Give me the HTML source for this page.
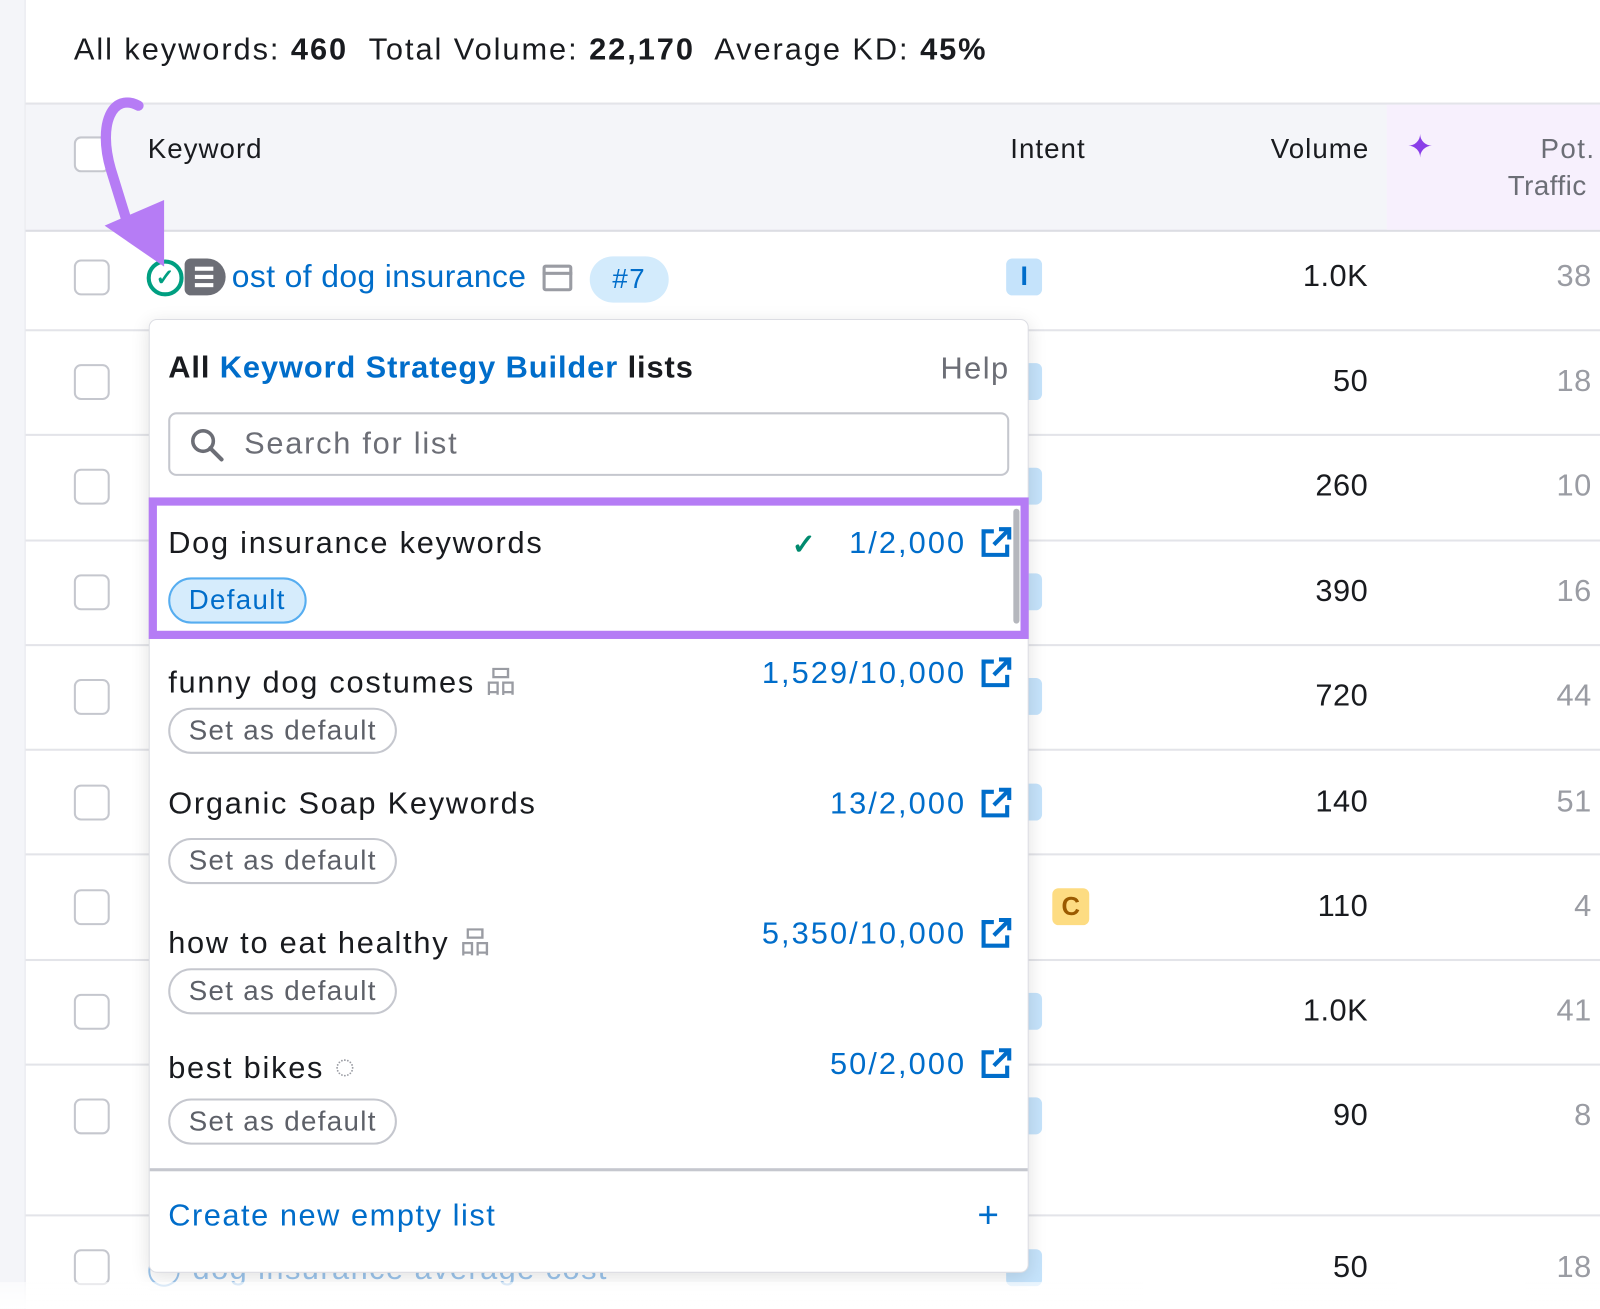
<!DOCTYPE html>
<html><head><style>
*{margin:0;padding:0;box-sizing:border-box}
html,body{width:1600px;height:1309px;overflow:hidden;background:#fff}
#w{position:absolute;left:0;top:0;width:1560px;height:1276px;transform:scale(1.02564);transform-origin:0 0;font-family:"Liberation Sans",sans-serif;color:#191b1f;letter-spacing:1.4px}
.a{position:absolute;white-space:nowrap}
.cb{position:absolute;left:72px;width:35px;height:35px;border:2px solid #c5c7ce;border-radius:7px;background:#fff}
.hl{position:absolute;left:25px;right:0;height:2px;background:#e3e4e9}
.vol{position:absolute;right:226px;font-size:30px;text-align:right;letter-spacing:0.5px}
.pt{position:absolute;right:8px;font-size:30px;color:#9a9ca3;letter-spacing:0.5px}
.ib{position:absolute;left:981px;width:35px;height:36px;background:#c5e3fb;border-radius:6px}
.it{position:absolute;left:164px;font-size:30px;letter-spacing:1.7px}
.cnt{position:absolute;right:618px;font-size:30px;color:#006dca;text-align:right;letter-spacing:2px}
.pill{position:absolute;left:164px;height:45px;border:2px solid #c5c7ce;border-radius:23px;font-size:27px;color:#5d6068;padding:0 18px;line-height:41px;background:#fff;letter-spacing:1.3px}
.lk{position:absolute;left:955px;width:32px;height:32px}
</style></head><body><div id="w">
<div class="a" style="left:0;top:0;width:25px;height:1276px;background:#f4f5f9;border-right:1px solid #e6e7ec"></div>
<div class="a" style="left:72px;top:32px;font-size:30px;letter-spacing:1.9px">All keywords: <b>460</b>&nbsp; Total Volume: <b>22,170</b>&nbsp; Average KD: <b>45%</b></div>
<div class="a" style="left:25px;top:100px;width:1535px;height:126px;background:#f4f5f9;border-top:2px solid #e3e4e9;border-bottom:2px solid #dcdde3"></div>
<div class="a" style="left:1352px;top:102px;width:208px;height:122px;background:#f7f0fd"></div>
<div class="cb" style="top:133px"></div>
<div class="a" style="left:144px;top:130px;font-size:27px;letter-spacing:1px">Keyword</div>
<div class="a" style="left:985px;top:130px;font-size:27px;letter-spacing:1px">Intent</div>
<div class="a" style="left:1239px;top:130px;font-size:27px;letter-spacing:1px">Volume</div>
<div class="a" style="left:1372px;top:126px;font-size:30px;color:#8a3ee8">✦</div>
<div class="a" style="left:1502px;top:130px;font-size:27px;color:#6c6e76">Pot.</div>
<div class="a" style="left:1470px;top:166px;font-size:27px;color:#6c6e76;letter-spacing:0.5px">Traffic</div>
<div class="hl" style="top:321px"></div><div class="hl" style="top:423px"></div><div class="hl" style="top:526px"></div><div class="hl" style="top:628px"></div><div class="hl" style="top:730px"></div><div class="hl" style="top:832px"></div><div class="hl" style="top:935px"></div><div class="hl" style="top:1037px"></div><div class="hl" style="top:1184px"></div>
<div class="cb" style="top:253px"></div><div class="cb" style="top:355px"></div><div class="cb" style="top:457px"></div><div class="cb" style="top:560px"></div><div class="cb" style="top:662px"></div><div class="cb" style="top:765px"></div><div class="cb" style="top:867px"></div><div class="cb" style="top:969px"></div><div class="cb" style="top:1071px"></div><div class="cb" style="top:1218px"></div>
<div class="ib" style="top:252px"></div><div class="a" style="left:995px;top:254px;font-size:26px;color:#006dca;font-weight:bold">I</div>
<div class="ib" style="top:354px"></div><div class="ib" style="top:456px"></div><div class="ib" style="top:559px"></div><div class="ib" style="top:661px"></div><div class="ib" style="top:764px"></div><div class="ib" style="top:968px"></div><div class="ib" style="top:1070px"></div><div class="ib" style="top:1218px"></div>
<div class="a" style="left:1026px;top:866px;width:36px;height:36px;background:#fddc82;border-radius:6px;font-size:25px;font-weight:bold;color:#9a5a00;text-align:center;line-height:36px;letter-spacing:0">C</div>
<div class="vol" style="top:253px">1.0K</div><div class="pt" style="top:253px">38</div>
<div class="vol" style="top:355px">50</div><div class="pt" style="top:355px">18</div>
<div class="vol" style="top:457px">260</div><div class="pt" style="top:457px">10</div>
<div class="vol" style="top:560px">390</div><div class="pt" style="top:560px">16</div>
<div class="vol" style="top:662px">720</div><div class="pt" style="top:662px">44</div>
<div class="vol" style="top:765px">140</div><div class="pt" style="top:765px">51</div>
<div class="vol" style="top:867px">110</div><div class="pt" style="top:867px">4</div>
<div class="vol" style="top:969px">1.0K</div><div class="pt" style="top:969px">41</div>
<div class="vol" style="top:1071px">90</div><div class="pt" style="top:1071px">8</div>
<div class="vol" style="top:1219px">50</div><div class="pt" style="top:1219px">18</div>
<div class="a" style="left:180px;top:252px;width:40px;height:36px;background:#6c6e76;border-radius:6px 18px 18px 6px"></div>
<div class="a" style="left:190px;top:260px;width:18px;height:4px;background:#fff;box-shadow:0 8px 0 #fff,0 16px 0 #fff"></div>
<div class="a" style="left:143px;top:253px;width:36px;height:36px;border:4px solid #009f81;border-radius:50%;background:#fff;color:#009f81;font-size:22px;text-align:center;line-height:28px;font-weight:bold;letter-spacing:0">✓</div>
<div class="a" style="left:226px;top:252px;font-size:31px;color:#006dca;letter-spacing:0.4px">ost of dog insurance</div>
<div class="a" style="left:529px;top:258px;width:29px;height:26px;border:3px solid #9a9ca3;border-radius:3px"></div>
<div class="a" style="left:529px;top:265px;width:29px;height:3px;background:#9a9ca3"></div>
<div class="a" style="left:575px;top:250px;width:77px;height:45px;background:#d3ebfc;border-radius:23px;color:#006dca;font-size:27px;text-align:center;line-height:45px">#7</div>
<div class="a" style="left:143px;top:1220px;font-size:30px;color:#9cc5ec">◯ dog insurance average cost</div>
<svg class="a" style="left:80px;top:95px" width="100" height="170"><path d="M55 8 C30 -5 15 25 28 70 L45 125" fill="none" stroke="#b67cf5" stroke-width="10" stroke-linecap="round"/><polygon points="80,100 80,165 22,125" fill="#b67cf5"/></svg>
<div class="a" style="left:145px;top:311px;width:858px;height:930px;background:#fff;border:1px solid #dcdde3;border-radius:8px;box-shadow:0 4px 18px rgba(0,0,0,.12)"></div>
<div class="a" style="left:164px;top:342px;font-size:30px;font-weight:bold;letter-spacing:0.9px">All <span style="color:#006dca">Keyword Strategy Builder</span> lists</div>
<div class="a" style="left:917px;top:343px;font-size:30px;color:#6c6e76">Help</div>
<div class="a" style="left:164px;top:402px;width:820px;height:62px;border:2px solid #c5c7ce;border-radius:8px"></div>
<svg class="a" style="left:184px;top:416px" width="36" height="36"><circle cx="14" cy="14" r="10" fill="none" stroke="#6c6e76" stroke-width="3.5"/><line x1="21" y1="21" x2="32" y2="32" stroke="#6c6e76" stroke-width="4" stroke-linecap="round"/></svg>
<div class="a" style="left:238px;top:416px;font-size:30px;color:#6c6e76;letter-spacing:1.7px">Search for list</div>
<div class="a" style="left:145px;top:485px;width:858px;height:138px;border:8px solid #b57cf5"></div>
<div class="a" style="left:988px;top:496px;width:6px;height:112px;background:#b5b7bd;border-radius:3px"></div>
<div class="it" style="top:513px">Dog insurance keywords</div>
<div class="a" style="left:772px;top:514px;font-size:28px;color:#008a6e;font-weight:bold">✓</div>
<div class="cnt" style="top:513px">1/2,000</div>
<div class="pill" style="top:563px;background:#d6ecfc;border-color:#56adf0;color:#006dca">Default</div>
<div class="it" style="top:640px">funny dog costumes <span style="color:#9a9ca3">品</span></div>
<div class="cnt" style="top:640px">1,529/10,000</div>
<div class="pill" style="top:690px">Set as default</div>
<div class="it" style="top:767px">Organic Soap Keywords</div>
<div class="cnt" style="top:767px">13/2,000</div>
<div class="pill" style="top:817px">Set as default</div>
<div class="it" style="top:894px">how to eat healthy <span style="color:#9a9ca3">品</span></div>
<div class="cnt" style="top:894px">5,350/10,000</div>
<div class="pill" style="top:944px">Set as default</div>
<div class="it" style="top:1021px">best bikes <span style="color:#9a9ca3;font-size:34px">◌</span></div>
<div class="cnt" style="top:1021px">50/2,000</div>
<div class="pill" style="top:1071px">Set as default</div>
<svg class="lk" style="top:513px" viewBox="0 0 32 32"><path d="M14 5H4v23h23V18" fill="none" stroke="#006dca" stroke-width="4"/><path d="M19 3h10v10M29 3L14 18" fill="none" stroke="#006dca" stroke-width="4"/></svg>
<svg class="lk" style="top:640px" viewBox="0 0 32 32"><path d="M14 5H4v23h23V18" fill="none" stroke="#006dca" stroke-width="4"/><path d="M19 3h10v10M29 3L14 18" fill="none" stroke="#006dca" stroke-width="4"/></svg>
<svg class="lk" style="top:767px" viewBox="0 0 32 32"><path d="M14 5H4v23h23V18" fill="none" stroke="#006dca" stroke-width="4"/><path d="M19 3h10v10M29 3L14 18" fill="none" stroke="#006dca" stroke-width="4"/></svg>
<svg class="lk" style="top:894px" viewBox="0 0 32 32"><path d="M14 5H4v23h23V18" fill="none" stroke="#006dca" stroke-width="4"/><path d="M19 3h10v10M29 3L14 18" fill="none" stroke="#006dca" stroke-width="4"/></svg>
<svg class="lk" style="top:1021px" viewBox="0 0 32 32"><path d="M14 5H4v23h23V18" fill="none" stroke="#006dca" stroke-width="4"/><path d="M19 3h10v10M29 3L14 18" fill="none" stroke="#006dca" stroke-width="4"/></svg>
<div class="a" style="left:146px;top:1139px;width:856px;height:3px;background:#c5c7ce"></div>
<div class="a" style="left:164px;top:1169px;font-size:30px;color:#006dca;letter-spacing:1.5px">Create new empty list</div>
<div class="a" style="left:953px;top:1164px;font-size:36px;color:#006dca">+</div>
<div class="a" style="left:0;top:1250px;width:1560px;height:26px;background:linear-gradient(rgba(255,255,255,.6),#fff)"></div>
</div></body></html>
